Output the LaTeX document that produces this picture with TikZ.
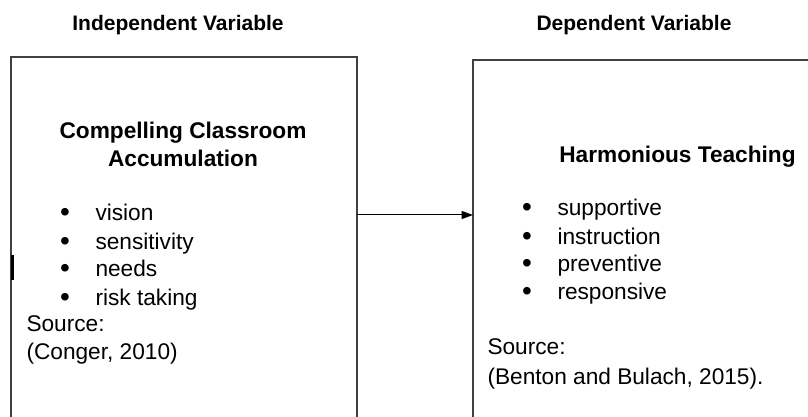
\documentclass[tikz,border=0pt]{standalone}
\usepackage{fontspec}
\setmainfont{Liberation Sans}
\usetikzlibrary{arrows.meta}

\tikzset{every picture/.style={line width=0.75pt}}
\tikzset{
  hdr/.style={anchor=base,inner sep=0pt,font=\fontsize{15.75}{19}\selectfont\bfseries},
  ttl/.style={anchor=base,inner sep=0pt,font=\fontsize{17}{20}\selectfont\bfseries},
  txt/.style={anchor=base west,inner sep=0pt,font=\fontsize{17}{20}\selectfont},
  bul/.style={anchor=base,inner sep=0pt,font=\fontsize{21}{20}\selectfont},
  boxline/.style={draw={rgb,255:red,64;green,64;blue,64},line width=1.1pt}
}

\begin{document}
\begin{tikzpicture}[x=0.75pt,y=0.75pt,yscale=-1,xscale=1]
\clip (0,0) rectangle (808,417);

%Headers
\node [hdr] (indep) at (178,31) {Independent Variable};
\node [hdr] (dep) at (634,31) {Dependent Variable};

%Rectangles
\draw [boxline] (11,57) rectangle (357,440);
\draw [boxline] (473,60) rectangle (830,440);
\draw [line width=2.25] (12,255) -- (12,280);

%Straight Lines
\coordinate (lout) at (357,215);
\coordinate (rin) at (473,215);
\draw [-{Triangle[length=8.5pt,width=6pt]}] (lout) -- (rin);

% Left box
\node [ttl] (ltitle1) at (183,139) {Compelling Classroom};
\node [ttl] (ltitle2) at (183,167) {Accumulation};
\foreach \y/\t [count=\i] in {221/vision,250/sensitivity,277/needs,306/risk taking}{
  \node [bul] (lbul\i) at (65,\y+1) {•};
  \node [txt] (litem\i) at (95,\y) {\t};
}
\node [txt] (lsrc) at (26,332) {Source:};
\node [txt] (lref) at (26,360) {(Conger, 2010)};

% Right box
\node [ttl] (rtitle) at (677.5,163) {Harmonious Teaching};
\foreach \y/\t [count=\i] in {216/supportive,245/instruction,272/preventive,300/responsive}{
  \node [bul] (rbul\i) at (527,\y+1) {•};
  \node [txt] (ritem\i) at (557,\y) {\t};
}
\node [txt] (rsrc) at (487,355) {Source:};
\node [txt] (rref) at (487,384) {(Benton and Bulach, 2015).};

\end{tikzpicture}
\end{document}
